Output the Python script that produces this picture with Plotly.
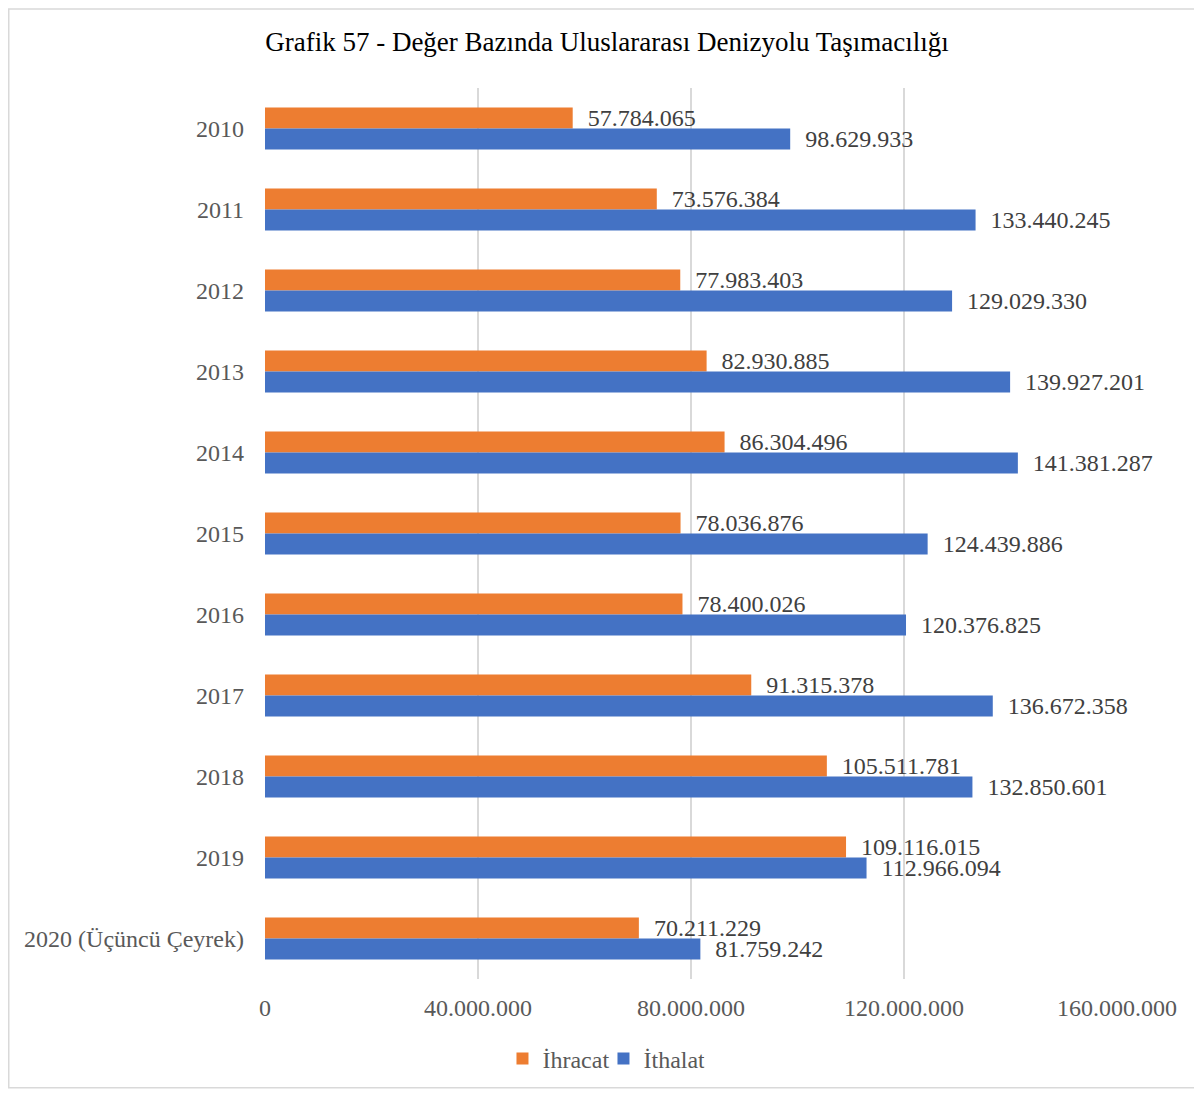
import plotly.graph_objects as go

categories = ["2010", "2011", "2012", "2013", "2014", "2015", "2016", "2017", "2018", "2019",
              "2020 (Üçüncü Çeyrek)"]
ihracat = [57784065, 73576384, 77983403, 82930885, 86304496, 78036876, 78400026, 91315378,
           105511781, 109116015, 70211229]
ithalat = [98629933, 133440245, 129029330, 139927201, 141381287, 124439886, 120376825, 136672358,
           132850601, 112966094, 81759242]
tick_vals = [0, 40000000, 80000000, 120000000, 160000000]

FONT = "Liberation Serif"
OFF = 8  # default body margin of the page
W, H = 1202 - OFF, 1093 - OFF
ML, MR, MT, MB = 265 - OFF, 85, 88 - OFF, 112

pw, ph = W - ML - MR, H - MT - MB
def px(x): return (x - OFF - ML) / pw
def py(y): return (H + OFF - MB - y) / ph

LBL = dict(family=FONT, size=24, color="#404040")

fig = go.Figure()
fig.add_trace(go.Bar(y=categories, x=ihracat, orientation="h", name="İhracat",
                     marker=dict(color="#ED7D31", line=dict(width=0)),
                     texttemplate="\u00a0\u00a0%{x:,}", textposition="outside",
                     constraintext="none", textfont=LBL, cliponaxis=False))
fig.add_trace(go.Bar(y=categories, x=ithalat, orientation="h", name="İthalat",
                     marker=dict(color="#4472C4", line=dict(width=0)),
                     texttemplate="\u00a0\u00a0%{x:,}", textposition="outside",
                     constraintext="none", textfont=LBL, cliponaxis=False))

fig.update_layout(
    width=W, height=H,
    margin=dict(l=ML, r=MR, t=MT, b=MB),
    paper_bgcolor="white", plot_bgcolor="white",
    separators=",.",
    barmode="group", bargap=0.48, bargroupgap=0,
    title=dict(text="Grafik 57 - Değer Bazında Uluslararası Denizyolu Taşımacılığı",
               x=(607 - OFF) / W, xanchor="center", xref="container",
               y=1 - (42 - OFF) / H, yref="container", yanchor="middle",
               font=dict(family=FONT, size=27, color="#000000")),
    font=dict(family=FONT, size=24, color="#595959"),
    xaxis=dict(range=[0, 160000000], tickvals=tick_vals, tickformat=",",
               showgrid=True, gridcolor="#d9d9d9", gridwidth=1.5, zeroline=False,
               showline=False, ticks="", ticklen=0, ticklabelstandoff=12,
               tickfont=dict(family=FONT, size=24, color="#595959")),
    yaxis=dict(autorange="reversed", showgrid=False, ticks="", showline=False,
               ticklabelstandoff=20,
               tickfont=dict(family=FONT, size=24, color="#595959")),
    legend=dict(orientation="h", x=px(511) - 0.01, xanchor="left",
                y=py(1061), yanchor="middle",
                font=dict(family=FONT, size=24, color="#595959"),
                itemwidth=30, entrywidth=56, traceorder="normal"),
    shapes=[dict(type="rect", xref="paper", yref="paper",
                 x0=px(8.75), x1=px(1210), y0=py(1090), y1=py(8.75),
                 line=dict(color="#d9d9d9", width=1.5), fillcolor="rgba(0,0,0,0)", layer="below")],
)

fig.write_html("out.html")
